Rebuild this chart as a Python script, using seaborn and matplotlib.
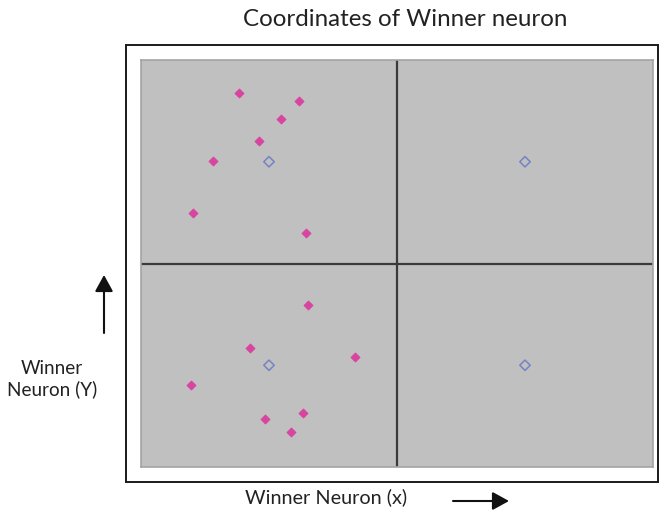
import matplotlib
matplotlib.use("Agg")
import matplotlib.pyplot as plt
from matplotlib.patches import Rectangle, FancyArrowPatch
import seaborn as sns
import pandas as pd

sns.set_style("white")
plt.rcParams["font.family"] = ["Lato", "DejaVu Sans"]

# Winner neuron positions for the input samples
sample_x = [0.383, 0.616, 0.547, 0.462, 0.281, 0.202, 0.643,
            0.654, 0.426, 0.835, 0.196, 0.632, 0.483, 0.585]
sample_y = [1.836, 1.797, 1.709, 1.602, 1.502, 1.247, 1.151,
            0.798, 0.583, 0.542, 0.401, 0.267, 0.234, 0.172]

# Neuron centres of the 2x2 map
centre_x = [0.5, 1.5, 0.5, 1.5]
centre_y = [1.5, 1.5, 0.5, 0.5]

title = "Coordinates of Winner neuron"
x_label = "Winner Neuron (x)"
y_label = "Winner\nNeuron (Y)"

samples = pd.DataFrame({"x": sample_x, "y": sample_y})
centres = pd.DataFrame({"x": centre_x, "y": centre_y})

W, H = 660, 516
fig = plt.figure(figsize=(W / 100, H / 100), dpi=100)

def fx(px):
    return px / W

def fy(py):
    return 1 - py / H

# outer frame
fig.patches.append(Rectangle((fx(126), fy(482)), fx(658) - fx(126), fy(44.5) - fy(482),
                             transform=fig.transFigure, fill=False,
                             edgecolor="#1a1a1a", linewidth=1.4, zorder=0))

ax = fig.add_axes([fx(141), fy(467), fx(653) - fx(141), fy(60) - fy(467)])
ax.set_facecolor("#c0c0c0")
for sp in ax.spines.values():
    sp.set_color("#a4a4a4")
    sp.set_linewidth(1.2)

ax.axvline(1, color="#3a3a3a", linewidth=1.6, zorder=1)
ax.axhline(1, color="#3a3a3a", linewidth=1.6, zorder=1)

sns.scatterplot(data=samples, x="x", y="y", ax=ax, marker="D", s=22,
                color="#d8449f", edgecolor="#d8449f", linewidth=0.5, zorder=3)
sns.scatterplot(data=centres, x="x", y="y", ax=ax, marker="D", s=28,
                facecolor="none", edgecolor="#7682c4", linewidth=1.1, zorder=3)

ax.set_xlim(0, 2)
ax.set_ylim(0, 2)
ax.set_xticks([])
ax.set_yticks([])
ax.set_xlabel("")
ax.set_ylabel("")

fig.text(fx(405.5), fy(20), title, ha="center", va="center", fontsize=17.4, color="#222222")
fig.text(fx(326.5), fy(497), x_label, ha="center", va="center", fontsize=14.3, color="#222222")
fig.text(fx(52), fy(379), y_label, ha="center", va="center", fontsize=13.6,
         color="#222222", linespacing=1.25)

arrow_style = "-|>,head_length=1.0,head_width=0.55"
fig.patches.append(FancyArrowPatch((fx(453), fy(501)), (fx(509), fy(501)),
                                   transform=fig.transFigure, arrowstyle=arrow_style,
                                   mutation_scale=10, color="#111111", linewidth=1.5,
                                   shrinkA=0, shrinkB=0))
fig.patches.append(FancyArrowPatch((fx(104), fy(333)), (fx(104), fy(275)),
                                   transform=fig.transFigure, arrowstyle=arrow_style,
                                   mutation_scale=10, color="#111111", linewidth=1.5,
                                   shrinkA=0, shrinkB=0))

fig.savefig("out.png", dpi=100)
